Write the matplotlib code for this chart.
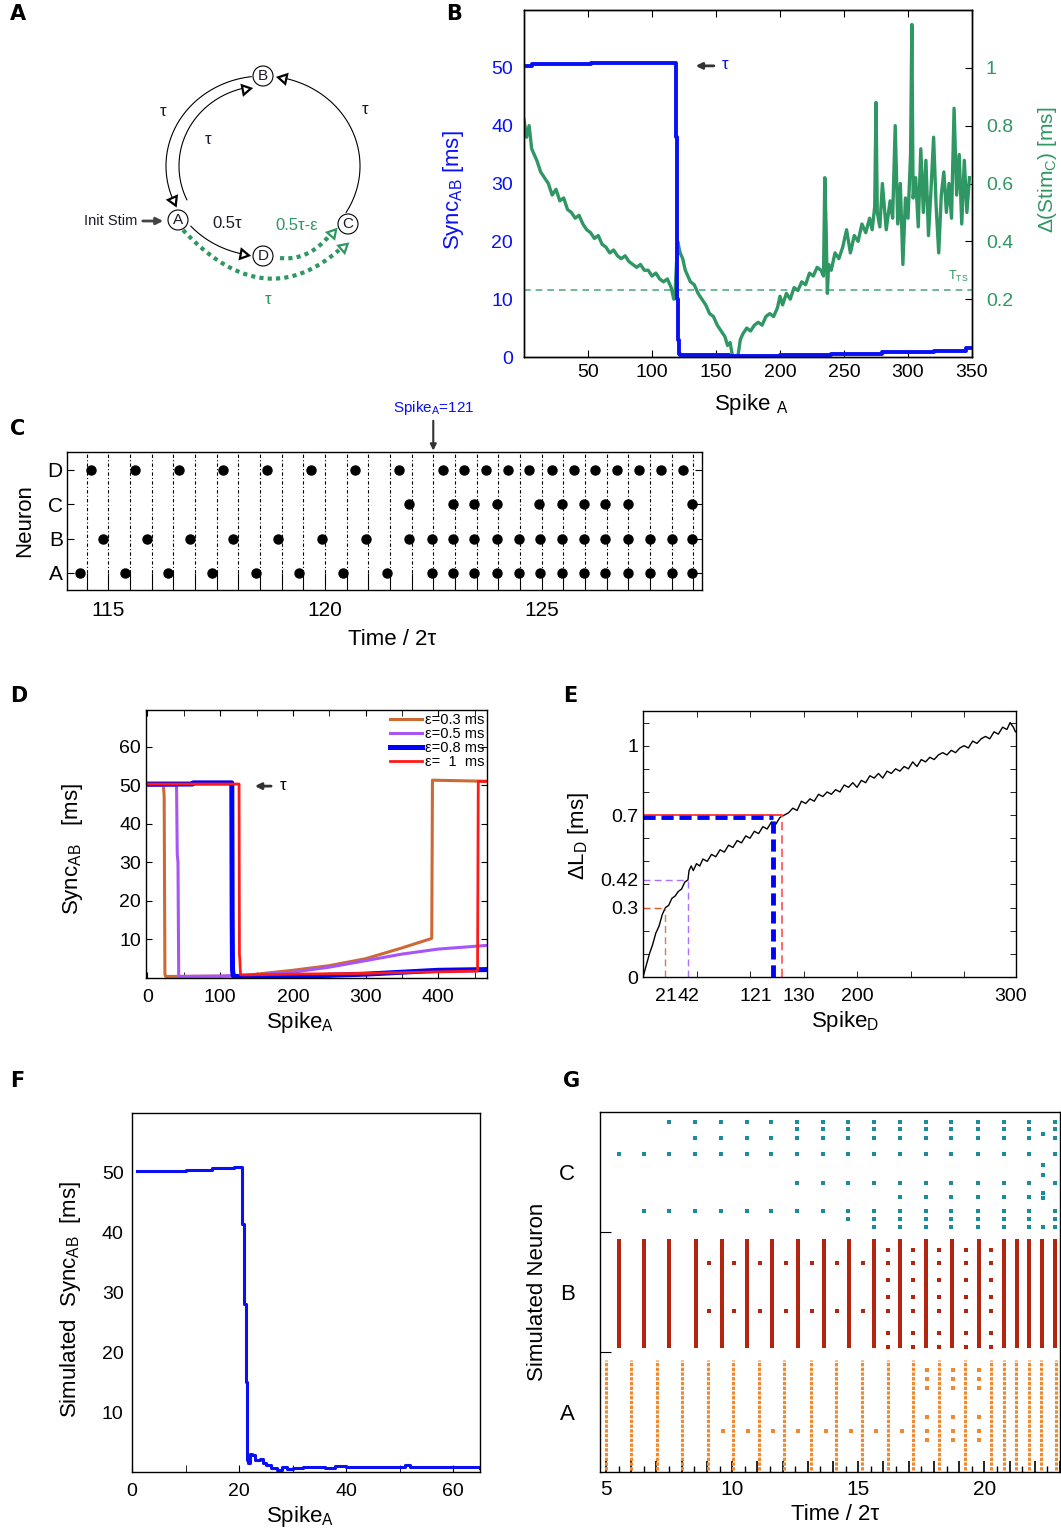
import numpy as np
import matplotlib
matplotlib.use('Agg')
import matplotlib.pyplot as plt
from matplotlib.patches import Circle

plt.rcParams['font.family'] = ['Liberation Sans', 'DejaVu Sans']
plt.rcParams['mathtext.fontset'] = 'custom'
plt.rcParams['mathtext.rm'] = 'Liberation Sans'
plt.rcParams['mathtext.it'] = 'Liberation Sans:italic'
plt.rcParams['mathtext.bf'] = 'Liberation Sans:bold'
plt.rcParams['xtick.direction'] = 'in'
plt.rcParams['ytick.direction'] = 'in'
plt.rcParams['axes.linewidth'] = 1.0

W, H = 1061, 1536
BLUE = '#0a10f5'
GREEN = '#2f9763'
TXT = '#1a1a2a'

# ---------------- data ----------------
# B: Sync_AB (left axis) and Delta(Stim_C) (right axis) vs Spike_A
b_sync_x = [0, 5, 6, 50, 52, 118, 119, 119.5, 120, 121, 122, 160, 200, 240, 280, 320, 345, 350]
b_sync_y = [50.3, 50.3, 50.6, 50.6, 50.8, 50.8, 38.0, 10.0, 3.0, 0.5, 0.3, 0.2, 0.3, 0.5, 0.8, 1.1, 1.5, 1.6]
b_stim_x = [0, 2, 4, 6, 8, 10, 13, 16, 19, 22, 25, 28, 31, 34, 37, 40, 43, 46, 49, 52,
            55, 58, 61, 64, 67, 70, 73, 76, 79, 82, 85, 88, 91, 94, 97, 100, 103, 106, 109, 112,
            115, 117, 118, 120, 122, 124, 126, 128, 130, 133, 136, 139, 142, 145, 148, 151, 154, 157, 159, 161,
            163, 165, 167, 169, 171, 174, 177, 180, 183, 186, 189, 192, 195, 198, 200, 202, 205, 208, 211, 214,
            217, 220, 223, 226, 229, 232, 234, 235, 236, 237, 238, 240, 243, 246, 249, 252, 255, 258, 261, 264,
            267, 270, 272, 274, 275, 276, 278, 280, 283, 286, 288, 290, 292, 294, 296, 298, 300, 302, 303, 304,
            306, 308, 310, 312, 314, 316, 318, 320, 322, 324, 326, 328, 330, 332, 334, 336, 338, 340, 342, 344, 346, 348]
b_stim_y = [0.82, 0.76, 0.80, 0.72, 0.70, 0.68, 0.64, 0.62, 0.60, 0.56, 0.58, 0.54, 0.55, 0.51, 0.50, 0.48, 0.49, 0.46, 0.44, 0.43,
            0.41, 0.42, 0.39, 0.38, 0.36, 0.37, 0.35, 0.34, 0.35, 0.33, 0.32, 0.31, 0.32, 0.30, 0.30, 0.28, 0.29, 0.27, 0.26, 0.27,
            0.24, 0.20, 0.22, 0.40, 0.36, 0.34, 0.30, 0.28, 0.26, 0.25, 0.22, 0.20, 0.18, 0.15, 0.14, 0.11, 0.09, 0.07, 0.04, 0.05,
            0.00, 0.00, 0.00, 0.06, 0.08, 0.10, 0.09, 0.11, 0.12, 0.11, 0.14, 0.15, 0.14, 0.17, 0.21, 0.18, 0.22, 0.20, 0.24, 0.23,
            0.26, 0.25, 0.29, 0.28, 0.31, 0.30, 0.28, 0.62, 0.45, 0.22, 0.32, 0.30, 0.36, 0.34, 0.38, 0.44, 0.36, 0.42, 0.40, 0.46,
            0.43, 0.48, 0.44, 0.52, 0.88, 0.50, 0.45, 0.60, 0.44, 0.54, 0.48, 0.80, 0.46, 0.60, 0.32, 0.55, 0.48, 0.70, 1.15, 0.55,
            0.62, 0.45, 0.72, 0.50, 0.68, 0.42, 0.58, 0.76, 0.52, 0.36, 0.56, 0.64, 0.50, 0.60, 0.48, 0.86, 0.56, 0.70, 0.46, 0.68, 0.50, 0.62]
b_threshold = 0.23

# C: spike raster, time / 2tau
c_t_D = [114.61, 115.63, 116.63, 117.65, 118.67, 119.68, 120.70, 121.71, 122.72, 123.21, 123.72,
         124.23, 124.72, 125.23, 125.74, 126.23, 126.74, 127.24, 127.76, 128.26]
c_t_C = [121.95, 122.95, 123.45, 123.98, 124.95, 125.47, 125.98, 126.47, 127.00, 128.47]
c_t_B = [114.87, 115.89, 116.89, 117.89, 118.92, 119.93, 120.95, 121.95, 122.47, 122.95, 123.45,
         123.98, 124.47, 124.97, 125.47, 125.98, 126.47, 127.00, 127.49, 128.00, 128.47]
c_t_A = [114.35, 115.39, 116.37, 117.39, 118.40, 119.40, 120.42, 121.44, 122.47, 122.95, 123.45,
         123.98, 124.47, 124.97, 125.47, 125.98, 126.47, 127.00, 127.49, 128.00, 128.47]
c_neurons = ['A', 'B', 'C', 'D']
c_mark_t = 122.5

# D: Sync_AB for several epsilon
d_labels = ['ε=0.3 ms', 'ε=0.5 ms', 'ε=0.8 ms', 'ε=  1  ms']
d_x_03 = [0, 22, 23, 24, 25, 130, 150, 200, 250, 300, 350, 390, 391, 392, 470]
d_y_03 = [50, 50, 47, 1.0, 0.4, 0.5, 1.0, 2.0, 3.2, 5.0, 7.8, 10.2, 10.3, 51.3, 51.0]
d_x_05 = [0, 40, 41, 42, 43, 100, 150, 200, 250, 300, 350, 400, 470]
d_y_05 = [50, 50, 32, 30, 0.4, 0.5, 0.8, 1.5, 2.8, 4.5, 6.2, 7.5, 8.5]
d_x_08 = [0, 62, 63, 116, 116.5, 117, 118, 120, 130, 200, 300, 400, 470]
d_y_08 = [50.3, 50.3, 50.6, 50.6, 16, 2, 0.6, 0.4, 0.3, 0.4, 1.0, 2.0, 2.2]
d_x_1 = [0, 126, 126.5, 127, 128, 129, 131, 200, 300, 400, 454, 455, 470]
d_y_1 = [50.3, 50.3, 6.0, 5.0, 0.9, 0.9, 0.8, 1.0, 1.2, 1.6, 1.8, 51.0, 51.0]

# E: Delta L_D vs Spike_D
e_x = [0, 3, 6, 9, 12, 15, 18, 21, 24, 27, 30, 33, 36, 39, 42, 43, 45, 47, 50, 53,
       56, 60, 64, 68, 72, 76, 80, 84, 88, 92, 96, 100, 104, 108, 112, 116, 120, 124, 128, 132,
       136, 140, 144, 148, 152, 156, 160, 164, 168, 172, 176, 180, 184, 188, 192, 196, 200, 204, 208, 212,
       216, 220, 224, 228, 232, 236, 240, 244, 248, 252, 256, 260, 264, 268, 272, 276, 280, 284, 288, 292,
       296, 300, 304, 308, 312, 316, 320, 324, 328, 332, 336, 340, 343, 346, 348]
e_y = [0.00, 0.05, 0.10, 0.14, 0.19, 0.22, 0.27, 0.30, 0.31, 0.34, 0.35, 0.37, 0.38, 0.41, 0.42, 0.46, 0.48, 0.46, 0.49, 0.48,
       0.51, 0.50, 0.53, 0.52, 0.55, 0.54, 0.57, 0.56, 0.59, 0.58, 0.61, 0.60, 0.63, 0.62, 0.65, 0.64, 0.67, 0.66, 0.69, 0.70,
       0.71, 0.73, 0.72, 0.76, 0.75, 0.77, 0.76, 0.79, 0.78, 0.80, 0.79, 0.81, 0.80, 0.83, 0.82, 0.84, 0.82, 0.85, 0.84, 0.87,
       0.86, 0.88, 0.86, 0.89, 0.88, 0.90, 0.89, 0.91, 0.90, 0.93, 0.91, 0.94, 0.93, 0.95, 0.94, 0.96, 0.97, 0.96, 0.98, 0.97,
       0.99, 1.00, 0.99, 1.02, 1.01, 1.03, 1.04, 1.03, 1.06, 1.05, 1.08, 1.07, 1.10, 1.08, 1.06]
e_mark_x = [21, 42, 121, 130]
e_mark_y = [0.30, 0.42, 0.69, 0.70]
e_tick_pos = [21, 42, 121, 130, 200, 343]
e_tick_lab = ['21', '42', '121', '130', '200', '300']
e_ytick_pos = [0, 0.3, 0.42, 0.7, 1.0]
e_ytick_lab = ['0', '0.3', '0.42', '0.7', '1']

# F: simulated Sync_AB
f_x = [1, 9, 10, 14, 15, 18, 19, 20.5, 20.6, 21, 21.2, 21.4, 21.6, 22, 22.5, 23, 24, 24.5, 25, 26,
       27, 28, 29, 30, 32, 34, 36, 38, 40, 50, 51, 52, 64, 65]
f_y = [50.3, 50.3, 50.5, 50.5, 50.8, 50.8, 51.0, 51.0, 41.5, 28.0, 15.0, 2.0, 1.5, 3.0, 2.8, 2.0, 2.2, 1.5, 1.2, 0.7,
       0.4, 0.8, 0.5, 0.7, 0.8, 0.9, 0.7, 1.0, 0.8, 0.8, 1.1, 0.8, 0.8, 0.6]

# G: simulated raster (time / 2tau), rows = simulated neurons
g_a_full = [4.99, 5.98, 7.01, 8.00, 9.04, 10.03, 11.07, 12.07, 13.11, 14.12, 15.15, 16.18, 17.16,
            18.20, 19.24, 20.26, 20.76, 21.25, 21.79, 22.25, 22.85]
g_a_part = [17.74, 18.77, 19.77]
g_a_part_rows = [34, 31, 28, 18.4, 13.7, 10.7]
g_a_single = [9.63, 10.63, 11.63, 12.62, 13.71, 14.71, 15.71, 16.74]
g_a_single_row = 13.7
g_b_full = [5.52, 6.51, 7.51, 8.55, 9.60, 10.59, 11.59, 12.60, 13.66, 14.65, 15.64, 16.67, 17.70,
            18.73, 19.77, 20.76, 21.28, 21.79, 22.28, 22.81]
g_b_part = [16.19, 17.17, 18.20, 19.26, 20.26]
g_b_part_rows = [74, 69.6, 64, 58.4, 53.7, 46.2, 41.8]
g_b_single = [9.10, 10.07, 11.10, 12.13, 13.15, 14.15, 15.19]
g_b_single_rows = [69.6, 53.7]
g_c_times = [5.52, 6.51, 7.51, 8.51, 9.54, 10.57, 11.56, 12.58, 13.62, 14.61, 15.64, 16.67,
             17.70, 18.69, 19.73, 20.76, 21.78, 22.32, 22.81]
g_c_rows = [116.8, 114.5, 111.4, 106.0, 96.2, 91.6, 87.1, 84.5, 81.8]
g_c_start = [2, 7, 3, 0, 7, 11, 1, 9, 10]
g_c_stop = [19, 19, 19, 19, 19, 17, 19, 19, 19]
g_c_odd_t = 22.32
g_c_odd_rows = [112.7, 102.3, 98.9, 93.0, 91.5, 81.8]

fig = plt.figure(figsize=(W / 100, H / 100), dpi=100)


def px_axes(l, t, r, b):
    return fig.add_axes([l / W, 1 - b / H, (r - l) / W, (b - t) / H])


for lab, (x, y) in zip('ABCDEFG', [(10, 4), (446, 4), (10, 419), (10, 686), (563, 686), (10, 1071), (563, 1071)]):
    fig.text(x / W, 1 - y / H, lab, fontsize=15, fontweight='bold', va='top', family='DejaVu Sans')

# ---------------- A: circuit diagram ----------------
ax = px_axes(60, 40, 420, 330)
ax.set_xlim(-203, 157)
ax.set_ylim(-164, 126)
ax.axis('off')


def arc(a0, a1, rx=97, ry=90):
    t = np.radians(np.linspace(a0, a1, 120))
    return rx * np.cos(t), ry * np.sin(t)


def bez(p0, c, p2):
    t = np.linspace(0, 1, 80)
    return ((1 - t) ** 2 * p0[0] + 2 * (1 - t) * t * c[0] + t ** 2 * p2[0],
            (1 - t) ** 2 * p0[1] + 2 * (1 - t) * t * c[1] + t ** 2 * p2[1])


def head(x, y, ang, color='k'):
    ax.plot(x, y, marker=(3, 0, ang - 90), ms=8, mfc='white', mec=color, mew=1.6, zorder=5)


for a0, a1 in [(97, 205), (-31, 80), (222, 260)]:
    ax.plot(*arc(a0, a1), color='k', lw=0.8)
ax.plot(*arc(102, 205, 84, 80), color='k', lw=0.8)

head(-90, -34, -66)
head(-18, 77, 11)
head(20, 88, 168)
head(-20, -88, -10)

gx, gy = bez((17, -92), (45, -95), (66, -70))
ax.plot(gx, gy, color=GREEN, lw=3, ls=(0, (1, 1)))
gx, gy = bez((-80, -64), (0, -150), (76, -84))
ax.plot(gx, gy, color=GREEN, lw=3, ls=(0, (1, 1)))
head(69, -67, 49, GREEN)
head(80, -81, 41, GREEN)

for name, (x, y) in zip('ABCD', [(-85, -54), (0, 90), (85, -58), (0, -90)]):
    ax.add_patch(Circle((x, y), 10, fc='white', ec='k', lw=0.8, zorder=6))
    ax.text(x, y, name, ha='center', va='center', fontsize=11, color=TXT, zorder=7)

ax.text(-100, 54, 'τ', ha='center', va='center', fontsize=12, color=TXT)
ax.text(-55, 26, 'τ', ha='center', va='center', fontsize=12, color=TXT)
ax.text(102, 56, 'τ', ha='center', va='center', fontsize=12, color=TXT)
ax.text(-36, -58, '0.5τ', ha='center', va='center', fontsize=12, color=TXT)
ax.text(34, -60, '0.5τ-ε', ha='center', va='center', fontsize=12, color=GREEN)
ax.text(5, -134, 'τ', ha='center', va='center', fontsize=12, color=GREEN)
ax.text(-126, -55, 'Init Stim', ha='right', va='center', fontsize=10.5, color=TXT)
ax.annotate('', xy=(-97, -55), xytext=(-123, -55),
            arrowprops=dict(arrowstyle='-|>', color='#444444', lw=2, mutation_scale=10))

# ---------------- B ----------------
axb = px_axes(524, 10, 972, 357)
axb2 = axb.twinx()
axb.set_zorder(axb2.get_zorder() + 1)
axb.patch.set_visible(False)
axb2.plot(b_stim_x, b_stim_y, color=GREEN, lw=2.4)
axb2.axhline(b_threshold, color=GREEN, lw=1.2, ls=(0, (4, 3)), alpha=0.8)
axb.plot(b_sync_x, b_sync_y, color=BLUE, lw=2.8, drawstyle='steps-post')
axb.set_xlim(0, 350)
axb.set_ylim(0, 60)
axb2.set_ylim(0, 1.2)
axb.set_xticks([50, 100, 150, 200, 250, 300, 350])
axb.set_yticks([0, 10, 20, 30, 40, 50])
axb2.set_yticks([0.2, 0.4, 0.6, 0.8, 1.0], labels=['0.2', '0.4', '0.6', '0.8', '1'])
axb.tick_params(axis='x', top=True, length=5, labelsize=14, pad=5)
axb.tick_params(axis='y', length=0, labelsize=14, labelcolor=BLUE, pad=8)
axb2.tick_params(axis='y', length=5, labelsize=14, labelcolor=GREEN, pad=10)
axb.set_ylabel('Sync$_{\\mathrm{AB}}$ [ms]', fontsize=16, color=BLUE)
axb.yaxis.set_label_coords(-0.13, 0.48)
axb2.set_ylabel('Δ(Stim$_{\\mathrm{C}}$) [ms]', fontsize=15, color=GREEN, rotation=90)
axb2.yaxis.set_label_coords(1.143, 0.54)
axb.set_xlabel('Spike $_{\\mathrm{A}}$', fontsize=16)
axb.xaxis.set_label_coords(0.506, -0.1)
axb.annotate('', xy=(0.377, 0.839), xytext=(0.43, 0.839), xycoords='axes fraction',
             arrowprops=dict(arrowstyle='-|>', color='#333333', lw=2, mutation_scale=9))
axb.text(0.442, 0.843, 'τ', transform=axb.transAxes, color=BLUE, fontsize=12, va='center')
axb.text(0.97, 0.232, 'T$_{\\mathrm{TS}}$', transform=axb.transAxes, color=GREEN, fontsize=9,
         ha='center', va='center')

# ---------------- C ----------------
axc = px_axes(67, 452, 702, 590)
grid_t = np.arange(114.5, 128.6, 0.5)
axc.vlines(grid_t, 0, 3.52, color='k', lw=0.8, ls=(0, (3, 2, 1, 2)))
axc.vlines(grid_t, -0.5, 0, color='k', lw=0.8)
for row, times in enumerate([c_t_A, c_t_B, c_t_C, c_t_D]):
    axc.plot(times, [row] * len(times), 'o', color='k', ms=6.5, zorder=3)
axc.set_xlim(114.05, 128.7)
axc.set_ylim(-0.5, 3.52)
axc.set_yticks(range(4), labels=c_neurons)
axc.set_xticks([115, 120, 125])
axc.tick_params(axis='y', left=True, right=True, length=5, labelsize=15, pad=3)
axc.tick_params(axis='x', length=0, labelsize=15, pad=8)
axc.set_ylabel('Neuron', fontsize=16)
axc.yaxis.set_label_coords(-0.05, 0.5)
axc.set_xlabel('Time / 2τ', fontsize=16)
axc.xaxis.set_label_coords(0.512, -0.28)
axc.annotate('Spike$_{\\mathrm{A}}$=121', xy=(c_mark_t, 3.52), xytext=(c_mark_t, 4.55),
             xycoords='data', textcoords='data', ha='center', va='bottom', color=BLUE, fontsize=11,
             annotation_clip=False,
             arrowprops=dict(arrowstyle='-|>', color='#333333', lw=1.5, mutation_scale=9,
                             shrinkA=1, shrinkB=1))

# ---------------- D ----------------
axd = px_axes(146, 710, 487, 978)
axd.plot(d_x_03, d_y_03, color='#cd6a34', lw=2.2, label=d_labels[0])
axd.plot(d_x_05, d_y_05, color='#a855f7', lw=2.2, label=d_labels[1])
axd.plot(d_x_08, d_y_08, color='#0000ff', lw=3.6, label=d_labels[2])
axd.plot(d_x_1, d_y_1, color='#ff1a1a', lw=2.0, label=d_labels[3])
axd.set_xlim(-2, 467)
axd.set_ylim(0, 69.5)
axd.set_xticks([0, 100, 200, 300, 400])
axd.set_xticks([50, 150, 250, 350, 450], minor=True)
axd.set_yticks([10, 20, 30, 40, 50, 60])
axd.tick_params(axis='both', which='both', top=True, right=True, length=4, labelsize=14)
axd.tick_params(axis='x', pad=8)
axd.legend(loc='upper right', frameon=False, fontsize=10.5, handlelength=2.2, borderpad=0.1,
           labelspacing=0.0, handletextpad=0.15, borderaxespad=0.1)
axd.set_ylabel('Sync$_{\\mathrm{AB}}$   [ms]', fontsize=16)
axd.yaxis.set_label_coords(-0.18, 0.48)
axd.set_xlabel('Spike$_{\\mathrm{A}}$', fontsize=16)
axd.xaxis.set_label_coords(0.452, -0.12)
axd.annotate('', xy=(0.311, 0.716), xytext=(0.375, 0.716), xycoords='axes fraction',
             arrowprops=dict(arrowstyle='-|>', color='#333333', lw=2, mutation_scale=9))
axd.text(0.392, 0.72, 'τ', transform=axd.transAxes, fontsize=12, va='center')

# ---------------- E ----------------
axe = px_axes(643, 711, 1016, 977)
axe.plot(e_x, e_y, color='k', lw=1.0)
e_cols_h = ['#e8502a', '#b070ff', '#0000ff', '#ff2020']
e_cols_v = ['#d08050', '#b070ff', '#0000ff', '#ff5050']
e_lw = [1.0, 1.0, 3.5, 1.2]
e_ls = [(0, (5, 3)), (0, (5, 3)), (0, (2.5, 1.2)), (0, (5, 3))]
for x, y, ch, cv, lw, ls in zip(e_mark_x, e_mark_y, e_cols_h, e_cols_v, e_lw, e_ls):
    hls = '-' if x == 130 else ls
    axe.plot([0, x], [y, y], color=ch, lw=lw, ls=hls)
    axe.plot([x, x], [0, y], color=cv, lw=lw, ls=ls)
axe.set_xlim(0, 348.5)
axe.set_ylim(0, 1.15)
axe.xaxis.remove_overlapping_locs = False
axe.yaxis.remove_overlapping_locs = False
axe.set_xticks(e_tick_pos, labels=e_tick_lab)
axe.set_xticks([50, 100, 150, 200, 250, 300], minor=True)
axe.set_yticks(e_ytick_pos, labels=e_ytick_lab)
axe.set_yticks(np.arange(0.1, 1.15, 0.1), minor=True)
axe.tick_params(axis='both', which='major', length=0, labelsize=14)
axe.tick_params(axis='x', which='major', pad=8)
axe.tick_params(axis='both', which='minor', top=True, right=True, length=4)
for lbl in axe.get_xticklabels():
    if lbl.get_text() == '121':
        lbl.set_ha('right')
    elif lbl.get_text() == '130':
        lbl.set_ha('left')
axe.set_ylabel('ΔL$_{\\mathrm{D}}$ [ms]', fontsize=16)
axe.yaxis.set_label_coords(-0.14, 0.53)
axe.set_xlabel('Spike$_{\\mathrm{D}}$', fontsize=16)
axe.xaxis.set_label_coords(0.542, -0.12)

# ---------------- F ----------------
axf = px_axes(132, 1113, 480, 1472)
axf.plot(f_x, f_y, color=BLUE, lw=2.2, drawstyle='steps-post')
axf.set_xlim(0.5, 65)
axf.set_ylim(0, 60)
axf.set_xticks([0, 20, 40, 60])
axf.set_xticks([10, 30, 50], minor=True)
axf.set_yticks([10, 20, 30, 40, 50])
axf.tick_params(axis='x', which='both', length=5, labelsize=14, pad=8)
axf.tick_params(axis='y', length=0, labelsize=14, pad=6)
axf.set_ylabel('Simulated  Sync$_{\\mathrm{AB}}$  [ms]', fontsize=16)
axf.yaxis.set_label_coords(-0.14, 0.48)
axf.set_xlabel('Spike$_{\\mathrm{A}}$', fontsize=16)
axf.xaxis.set_label_coords(0.483, -0.09)

# ---------------- G ----------------
axg = px_axes(600, 1112, 1060, 1472)
A_COL, B_COL, C_COL = '#f08a30', '#b3250f', '#1a8c9c'
b_rows = np.arange(42, 78)
# A columns drawn as dashed vertical strokes over the A neuron block
axg.vlines(g_a_full, 0.7, 37.3, color=A_COL, lw=2.2, ls=(0, (1.1, 0.45)))
for t in g_a_part:
    axg.plot([t] * len(g_a_part_rows), g_a_part_rows, 's', color=A_COL, ms=2.2, mew=0)
axg.plot(g_a_single, [g_a_single_row] * len(g_a_single), 's', color=A_COL, ms=2.4, mew=0)
for t in g_b_full:
    axg.plot([t] * len(b_rows), b_rows, 's', color=B_COL, ms=2.3, mew=0)
for t in g_b_part:
    axg.plot([t] * len(g_b_part_rows), g_b_part_rows, 's', color=B_COL, ms=2.4, mew=0)
for r in g_b_single_rows:
    axg.plot(g_b_single, [r] * len(g_b_single), 's', color=B_COL, ms=2.4, mew=0)
for r, s0, s1 in zip(g_c_rows, g_c_start, g_c_stop):
    ts = [t for t in g_c_times[s0:s1] if t != g_c_odd_t]
    axg.plot(ts, [r] * len(ts), 's', color=C_COL, ms=2.6, mew=0)
axg.plot([g_c_odd_t] * len(g_c_odd_rows), g_c_odd_rows, 's', color=C_COL, ms=2.6, mew=0)
axg.set_xlim(4.76, 23.0)
axg.set_ylim(0, 120)
axg.set_xticks(range(5, 24), labels=[str(i) if i % 5 == 0 else '' for i in range(5, 24)])
axg.set_xticks(np.arange(5.5, 23, 1.0), minor=True)
axg.set_yticks([40, 80], labels=['', ''])
axg.set_yticks([20, 60, 100], labels=['A', 'B', 'C'], minor=True)
axg.tick_params(axis='x', which='major', length=8, width=1.2, labelsize=15, pad=6)
axg.tick_params(axis='x', which='minor', length=4, width=1.0)
axg.tick_params(axis='y', which='major', length=8)
axg.tick_params(axis='y', which='minor', length=0, labelsize=16, pad=18)
axg.set_ylabel('Simulated Neuron', fontsize=16)
axg.yaxis.set_label_coords(-0.113, 0.5)
axg.set_xlabel('Time / 2τ', fontsize=16)
axg.xaxis.set_label_coords(0.511, -0.09)

fig.savefig('out.png', dpi=100)
